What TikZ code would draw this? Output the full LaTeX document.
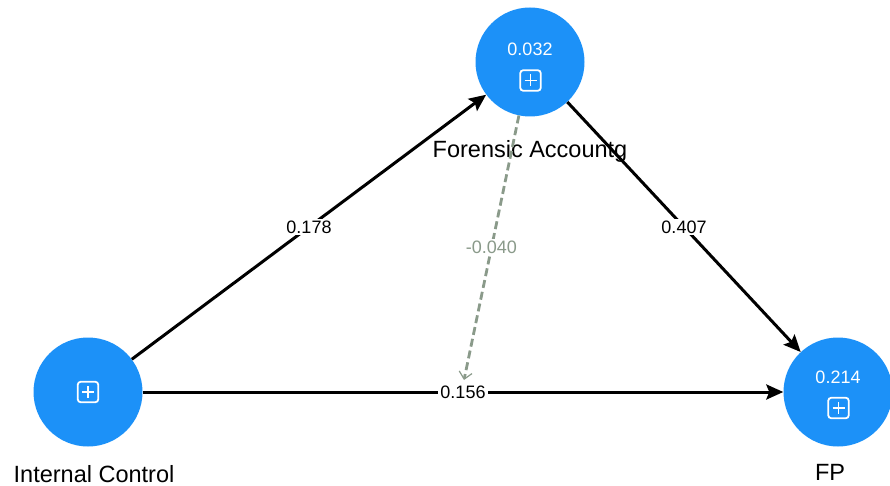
\documentclass[tikz,border=0pt]{standalone}
\usepackage{fontspec}
\setmainfont{Liberation Sans}
\usetikzlibrary{arrows.meta,calc}
\definecolor{nodeblue}{HTML}{1C91F8}
\definecolor{modgray}{HTML}{8A9A8A}
\begin{document}
\begin{tikzpicture}[x=1pt,y=-1pt,
  lv/.style={circle,fill=nodeblue,minimum size=109pt,inner sep=0pt},
  val/.style={text=white,font=\fontsize{18}{20}\selectfont,inner sep=0pt},
  icon/.style={draw=white,line width=1.8pt,rounded corners=3pt,minimum size=20.5pt,inner sep=0pt,
    path picture={\draw[white,line width=1.8pt]
      ($(path picture bounding box.center)+(-6,0)$) -- ($(path picture bounding box.center)+(6,0)$)
      ($(path picture bounding box.center)+(0,-6)$) -- ($(path picture bounding box.center)+(0,6)$);}},
  lvname/.style={font=\fontsize{23.5}{26}\selectfont,inner sep=0pt,anchor=base},
  pathedge/.style={line width=3pt,-{Stealth[length=17pt,width=15pt,inset=3pt]}},
  wt/.style={fill=white,font=\fontsize{18}{20}\selectfont,inner sep=2pt},
  modedge/.style={modgray,line width=2.8pt,dash pattern=on 8pt off 4pt,
    -{Straight Barb[length=7pt,width=13pt,line width=1.2pt]}}
]
\useasboundingbox (0,0) rectangle (890,486);

\node[lv] (fa) at (530,62) {};
\node[lv] (ic) at (88,392) {};
\node[lv] (fp) at (838,392) {};

\node[val] (favalue) at (530,49) {0.032};
\node[icon] (faicon) at (530.5,80.5) {};
\node[icon] (icicon) at (88,392) {};
\node[val] (fpvalue) at (838,377.5) {0.214};
\node[icon] (fpicon) at (838.5,408) {};

\node[lvname] (faname) at (530,158) {Forensic Accountg};
\node[lvname] (icname) at (94,482) {Internal Control};
\node[lvname] (fpname) at (830,480) {FP};

\coordinate (mod) at (464,380);

\draw[pathedge] (ic) -- node[wt] (l1) {0.178} (fa);
\draw[pathedge] (fa) -- node[wt] (l2) {0.407} (fp);
\draw[pathedge] (ic) -- node[wt] (l3) {0.156} (fp);
\draw[modedge] (fa) -- node[wt,text=modgray] (l4) {-0.040} (mod);
\end{tikzpicture}
\end{document}
